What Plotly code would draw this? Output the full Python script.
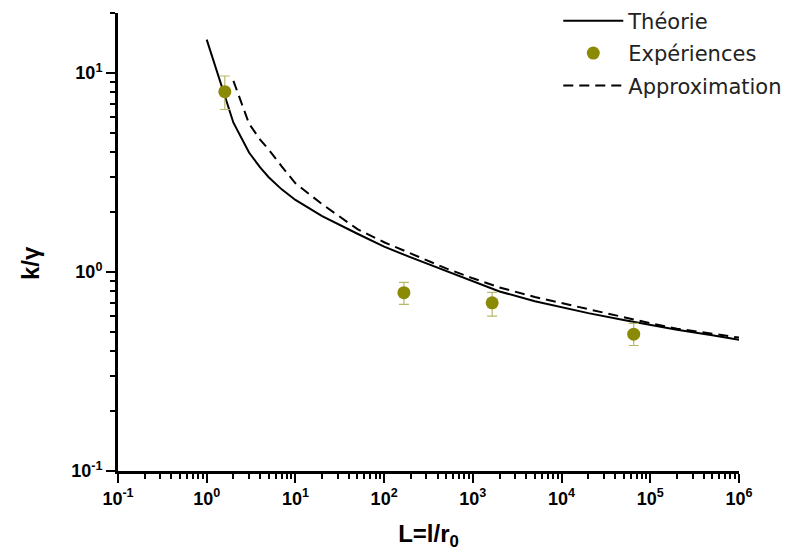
"""k/gamma en fonction de L=l/r0 : théorie, expériences et approximation."""

import plotly.graph_objects as go

# courbe théorique
theorie_x = [1, 2, 3, 4, 5, 7, 10, 20, 50, 100, 200, 500, 1e3, 2e3, 5e3, 1e4, 2e4, 5e4, 1e5, 2e5,
             5e5, 1e6]
theorie_y = [14.7, 5.62, 3.98, 3.35, 2.99, 2.6, 2.3, 1.91, 1.556, 1.34, 1.183, 1.012, 0.891, 0.798,
             0.713, 0.664, 0.621, 0.574, 0.543, 0.513, 0.481, 0.457]

# approximation
approx_x = [2, 3, 4, 5, 7, 10, 20, 50, 100, 200, 500, 1e3, 2e3, 5e3, 1e4, 2e4, 5e4, 1e5, 2e5, 5e5,
            1e6]
approx_y = [9.12, 5.56, 4.62, 4.12, 3.39, 2.79, 2.19, 1.64, 1.41, 1.236, 1.042, 0.929, 0.836, 0.748,
            0.697, 0.649, 0.592, 0.553, 0.519, 0.490, 0.468]

# mesures
exp_x = [1.6, 167, 1650, 65000]
exp_y = [8.05, 0.787, 0.70, 0.487]
exp_err_plus = [1.6, 0.10, 0.09, 0.065]
exp_err_minus = [1.5, 0.10, 0.10, 0.06]

x_tickvals = [0.1, 1, 10, 100, 1e3, 1e4, 1e5, 1e6]
x_ticktext = ["10<sup>-1</sup>", "10<sup>0</sup>", "10<sup>1</sup>", "10<sup>2</sup>",
              "10<sup>3</sup>", "10<sup>4</sup>", "10<sup>5</sup>", "10<sup>6</sup>"]
y_tickvals = [0.1, 1, 10]
y_ticktext = ["10<sup>-1</sup>", "10<sup>0</sup>", "10<sup>1</sup>"]

_ARIAL = "Liberation Sans, Arial, sans-serif"
_TICK_FONT = dict(family=_ARIAL, size=18, color="black", weight="bold")
_OLIVE = "#8a8a06"

fig = go.Figure()

fig.add_trace(go.Scatter(
    x=theorie_x, y=theorie_y, mode="lines", name="Théorie", legendgroup="t",
    line=dict(color="black", width=2),
))
fig.add_trace(go.Scatter(
    x=exp_x, y=exp_y, mode="markers", name="Expériences", legendgroup="e",
    marker=dict(color=_OLIVE, size=13),
    error_y=dict(type="data", symmetric=False, array=exp_err_plus, arrayminus=exp_err_minus,
                 color="#b8b86a", thickness=1.2, width=5),
))
fig.add_trace(go.Scatter(
    x=approx_x, y=approx_y, mode="lines", name="Approximation", legendgroup="a",
    line=dict(color="black", width=2, dash="10px,6px"),
))

axis_common = dict(
    type="log",
    automargin=False,
    showline=True, linecolor="black", linewidth=3,
    showgrid=False, zeroline=False,
    ticks="outside", ticklen=9, tickwidth=2, tickcolor="black",
    tickfont=_TICK_FONT,
    minor=dict(ticks="outside", ticklen=5, tickwidth=2, tickcolor="black", dtick="D1", showgrid=False),
)

fig.update_xaxes(
    **axis_common,
    range=[-1, 6],
    tickvals=x_tickvals, ticktext=x_ticktext,
    title=dict(text="<b>L=l/r<sub>0</sub></b>", font=dict(family=_ARIAL, size=24, color="black"),
               standoff=18),
)
fig.update_yaxes(
    **axis_common,
    range=[-1, 1.301],
    tickvals=y_tickvals, ticktext=y_ticktext,
)

# titre de l'axe y placé à la main
fig.add_annotation(
    text="<b>k/γ</b>", textangle=-90, showarrow=False,
    xref="paper", yref="paper", x=-0.1417, y=0.454, xanchor="center", yanchor="middle",
    font=dict(family=_ARIAL, size=24, color="black"),
)

fig.update_layout(
    width=795, height=557,
    margin=dict(l=110, r=64, t=5, b=94, autoexpand=False),
    paper_bgcolor="white", plot_bgcolor="white",
    showlegend=True,
    legend=dict(
        x=0.709, y=1.027, xanchor="left", yanchor="top",
        bgcolor="rgba(0,0,0,0)",
        font=dict(family="DejaVu Sans, sans-serif", size=21, color="#222"),
        tracegroupgap=2,
        itemwidth=60,
    ),
)

fig.write_html("out.html")
